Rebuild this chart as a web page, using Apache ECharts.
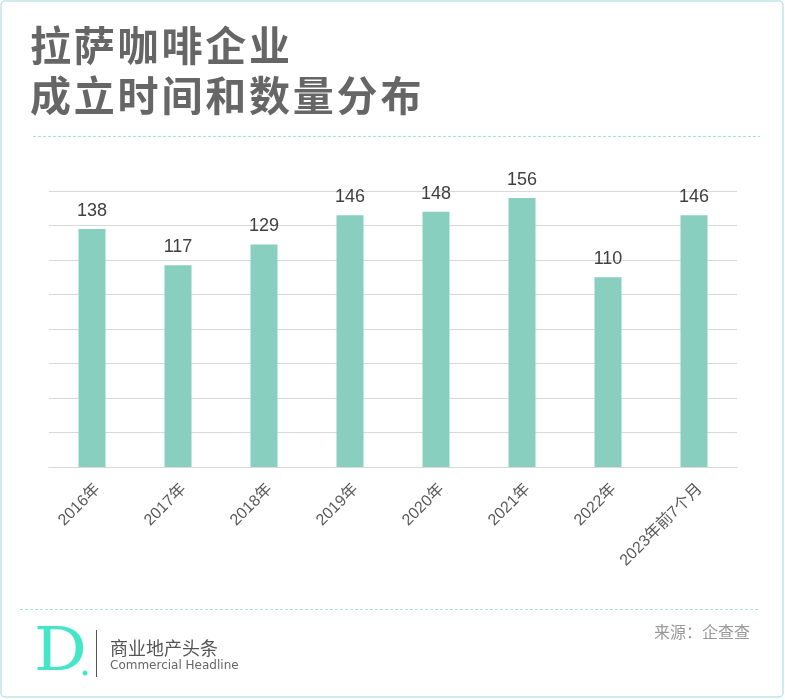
<!DOCTYPE html>
<html><head><meta charset="utf-8">
<script src="https://cdn.jsdelivr.net/npm/echarts@6/dist/echarts.min.js"></script>
<style>html,body{margin:0;padding:0;background:#fff}#c{width:785px;height:700px}</style>
</head><body><div id="c"></div>
<script>
const categories = ['2016年','2017年','2018年','2019年','2020年','2021年','2022年','2023年前7个月'];
const values = [138, 117, 129, 146, 148, 156, 110, 146];
const titleLines = ['拉萨咖啡企业', '成立时间和数量分布'];
const sourceText = '来源：企查查';
const brandName = '商业地产头条';
const brandSub = 'Commercial Headline';

const graphics = [
  {type: 'rect', shape: {x: 1, y: 1, width: 782, height: 696, r: 4}, style: {fill: 'none', stroke: '#bfe6e6', lineWidth: 1.5}, z: 10},
  {type: 'line', shape: {x1: 33, y1: 136.5, x2: 760, y2: 136.5}, style: {stroke: '#a6e3d8', lineWidth: 1, lineDash: [3, 2]}},
  {type: 'line', shape: {x1: 20, y1: 609.5, x2: 758, y2: 609.5}, style: {stroke: '#a6e3d8', lineWidth: 1, lineDash: [3, 2]}},
  {type: 'text', x: 34, y: 624, scaleX: 1.1, style: {text: 'D', font: '60px "DejaVu Serif", serif', fill: '#45e6c8'}},
  {type: 'circle', shape: {cx: 85, cy: 673, r: 2.5}, style: {fill: '#45e6c8'}},
  {type: 'line', shape: {x1: 96.5, y1: 630, x2: 96.5, y2: 677}, style: {stroke: '#555', lineWidth: 1}},
  {type: 'text', left: 110, top: 639, style: {text: brandName, font: '18px "Noto Sans CJK SC"', fill: '#555'}},
  {type: 'text', left: 110, top: 660, style: {text: brandSub, font: '12px "DejaVu Sans"', fill: '#666'}},
  {type: 'text', right: 35, top: 624, style: {text: sourceText, font: '16px "Noto Sans CJK SC"', fill: '#999'}}
];
titleLines.forEach((line, li) => {
  Array.from(line).forEach((ch, ci) => {
    graphics.push({type: 'text', x: 30 + ci * 43.8, y: 25 + li * 50,
      style: {text: ch, font: 'bold 41px "Noto Sans CJK SC"', fill: '#666666'}});
  });
});

const chart = echarts.init(document.getElementById('c'), null, {renderer:'canvas'});
chart.setOption({
  backgroundColor: '#fff',
  animation: false,
  grid: {left: 49, right: 48, top: 191, bottom: 233, containLabel: false},
  xAxis: {
    type: 'category', data: categories,
    axisLine: {show: true, lineStyle: {color: '#d9d9d9', width: 1}},
    axisTick: {show: false},
    axisLabel: {rotate: 45, interval: 0, fontSize: 16, color: '#595959', margin: 14, align: 'right', verticalAlign: 'top', fontFamily: 'Liberation Sans, Noto Sans CJK SC, sans-serif'}
  },
  yAxis: {
    type: 'value', min: 0, max: 160, interval: 20,
    axisLabel: {show: false}, axisLine: {show: false}, axisTick: {show: false},
    splitLine: {lineStyle: {color: '#d9d9d9', width: 1}}
  },
  series: [{
    type: 'bar', data: values, barWidth: 27,
    itemStyle: {color: '#88cfbf'},
    label: {show: true, position: 'top', distance: 9, fontSize: 18, color: '#404040', fontFamily: 'Liberation Sans, sans-serif'}
  }],
  graphic: graphics
});
</script></body></html>
